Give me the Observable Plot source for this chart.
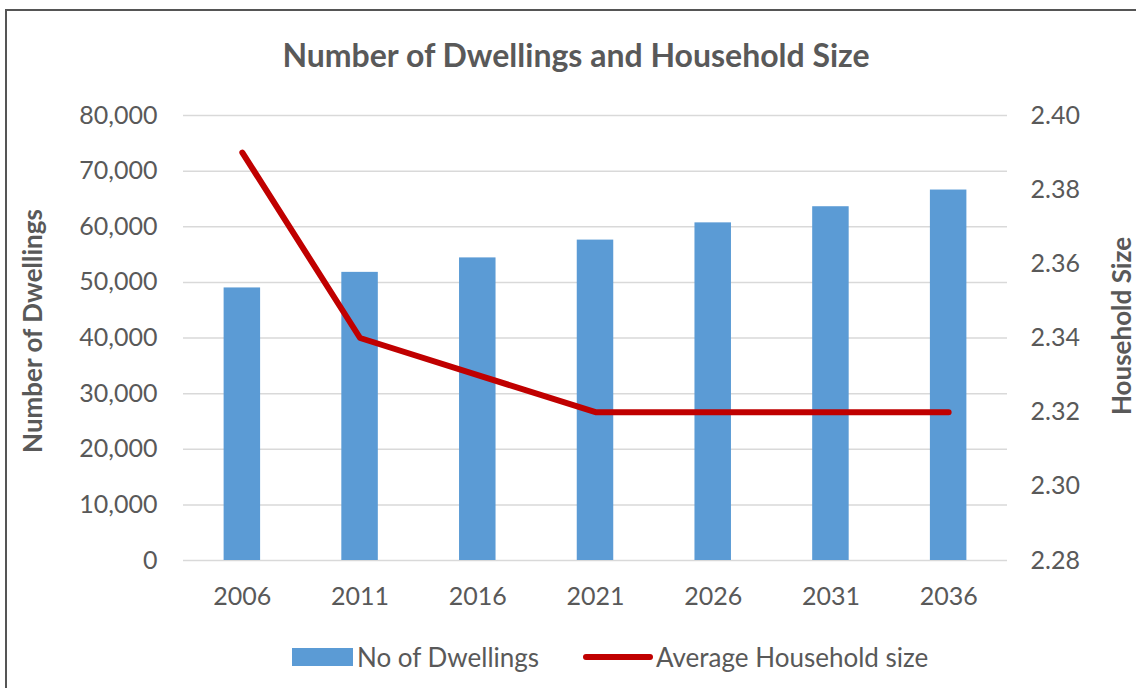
<!DOCTYPE html>
<html>
<head>
<meta charset="utf-8">
<script src="https://cdn.jsdelivr.net/npm/d3@7"></script>
<script src="https://cdn.jsdelivr.net/npm/@observablehq/plot@0.6"></script>
<style>
  html, body { margin: 0; padding: 0; background: #fff; }
  #wrap { position: relative; width: 1136px; height: 688px; overflow: hidden; font-family: Lato, "Open Sans", sans-serif; color: #595959; }
  #frame { position: absolute; left: 5px; top: 9px; width: 1300px; height: 900px; border: 2px solid #555; box-sizing: border-box; }
  #title { position: absolute; left: 8px; top: 35px; width: 1136px; height: 40px; line-height: 40px; text-align: center; font-size: 32px; font-weight: bold; }
  #chart { position: absolute; left: 0; top: 90px; }
  #legend { position: absolute; top: 640px; left: 0; width: 1136px; height: 34px; font-size: 26px; }
  .sw { position: absolute; }
  .lt { position: absolute; top: 0; line-height: 34px; }
</style>
</head>
<body>
<div id="wrap">
  <div id="frame"></div>
  <div id="title"></div>
  <div id="chart"></div>
  <div id="legend">
    <div class="sw" style="left:292px; top:8px; width:61px; height:18px; background:#5b9bd5;"></div>
    <div class="lt" id="lg1" style="left:357px;"></div>
    <div class="sw" style="left:583px; top:14px; width:70px; height:6px; border-radius:3px; background:#c00000;"></div>
    <div class="lt" id="lg2" style="left:656px;"></div>
  </div>
</div>
<script>
const titleText = "Number of Dwellings and Household Size";
const years = ["2006", "2011", "2016", "2021", "2026", "2031", "2036"];
const dwellings = [49000, 51800, 54400, 57600, 60700, 63600, 66600];
const householdSize = [2.39, 2.34, 2.33, 2.32, 2.32, 2.32, 2.32];
const leftTicks = [0, 10000, 20000, 30000, 40000, 50000, 60000, 70000, 80000];
const rightTicks = [2.28, 2.30, 2.32, 2.34, 2.36, 2.38, 2.40];
const leftTitle = "Number of Dwellings";
const rightTitle = "Household Size";
const seriesNames = ["No of Dwellings", "Average Household size"];

document.getElementById("title").textContent = titleText;
document.getElementById("lg1").textContent = seriesNames[0];
document.getElementById("lg2").textContent = seriesNames[1];

const yMax = 80000, rMin = 2.28, rMax = 2.40;
const toY = v => (v - rMin) / (rMax - rMin) * yMax;
const fromY = y => (rMin + y / yMax * (rMax - rMin)).toFixed(2);

const barData = years.map((yr, i) => ({year: yr, value: dwellings[i]}));
const lineData = years.map((yr, i) => ({year: yr, value: toY(householdSize[i])}));

const chart = Plot.plot({
  width: 1136,
  height: 535,
  marginTop: 25,
  marginBottom: 65,
  marginLeft: 183,
  marginRight: 129,
  style: {fontFamily: "Lato, 'Open Sans', sans-serif", fontSize: "25px", color: "#595959", background: "transparent"},
  x: {type: "band", domain: years, paddingInner: 0.69, paddingOuter: 0.345, round: false},
  y: {domain: [0, yMax]},
  marks: [
    Plot.ruleY(leftTicks, {stroke: "#d9d9d9", strokeWidth: 1.5}),
    Plot.barY(barData, {x: "year", y: "value", fill: "#5b9bd5"}),
    Plot.lineY(lineData, {x: "year", y: "value", stroke: "#c00000", strokeWidth: 6, strokeLinecap: "round", strokeLinejoin: "round"}),
    Plot.axisX({tickSize: 0, tickPadding: 27, label: null, fontSize: 25}),
    Plot.axisY({anchor: "left", ticks: leftTicks, tickSize: 0, tickPadding: 26, tickFormat: d3.format(","), label: null, fontSize: 25}),
    Plot.axisY({anchor: "right", ticks: rightTicks.map(toY), tickSize: 0, tickPadding: 23, tickFormat: fromY, label: null, fontSize: 25}),
    Plot.text([leftTitle], {frameAnchor: "left", textAnchor: "middle", dx: -150, dy: -7, rotate: -90, fontWeight: "bold", fontSize: 26, fill: "#595959"}),
    Plot.text([rightTitle], {frameAnchor: "right", textAnchor: "middle", dx: 115, dy: -12, rotate: -90, fontWeight: "bold", fontSize: 26, fill: "#595959"})
  ]
});
document.getElementById("chart").appendChild(chart);
</script>
</body>
</html>
